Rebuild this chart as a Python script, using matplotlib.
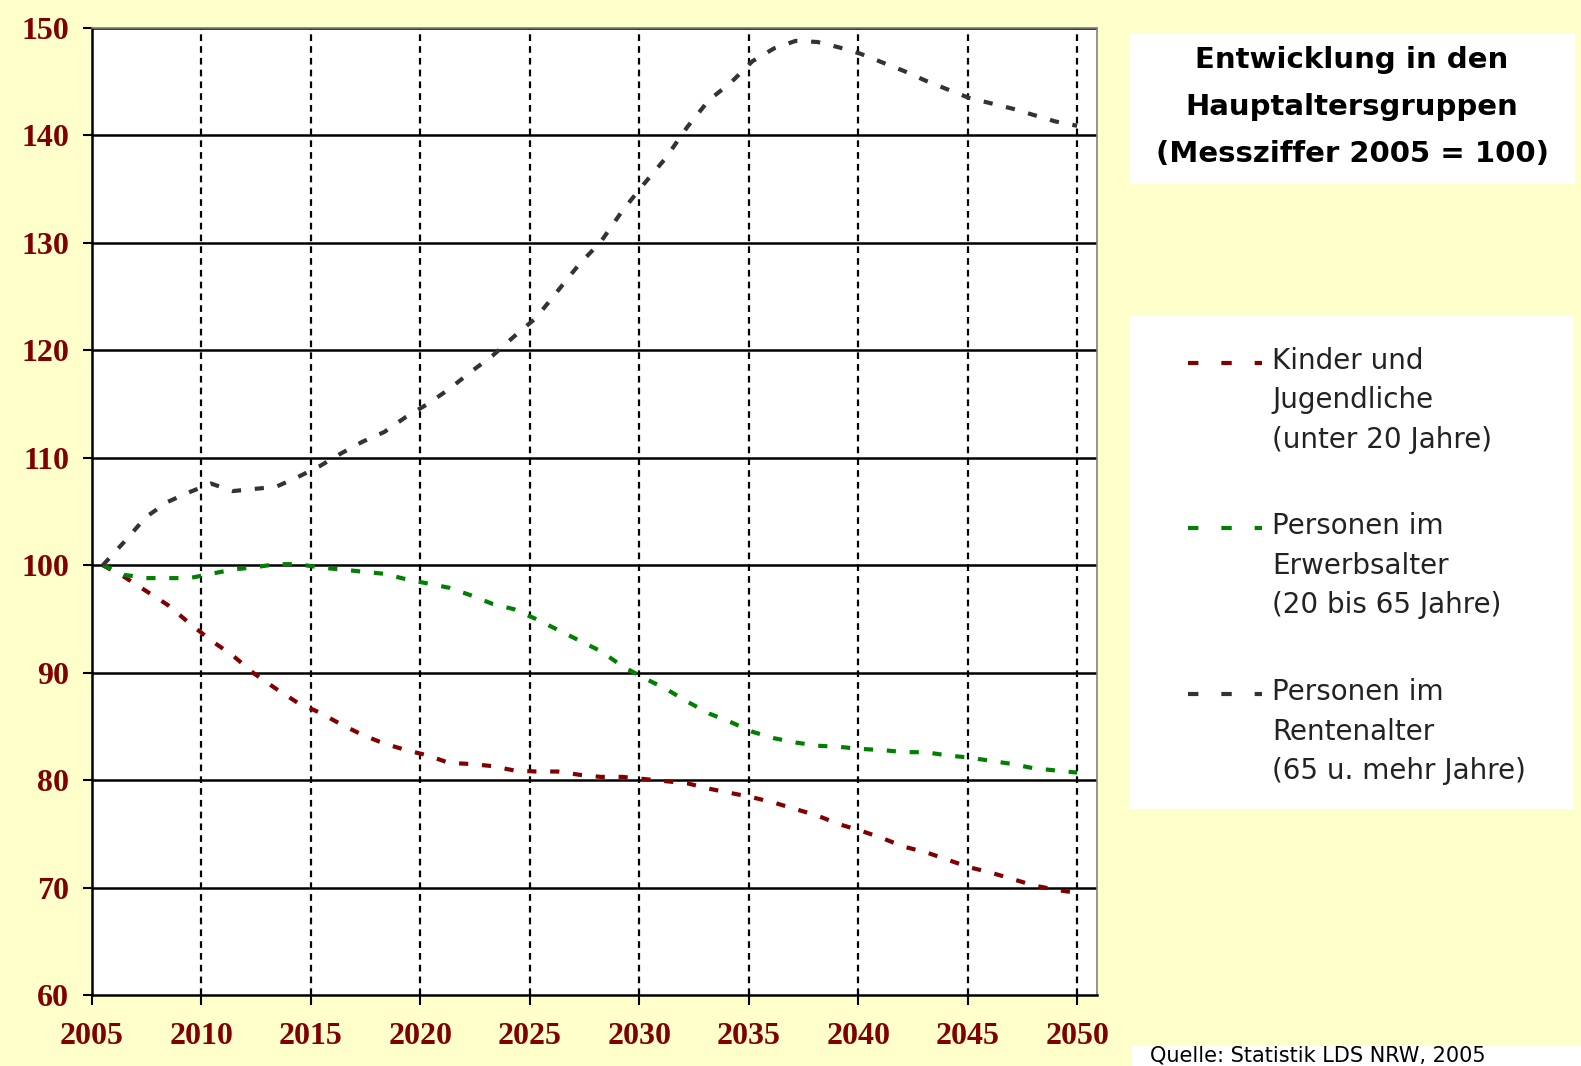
import matplotlib
matplotlib.use("Agg")
import matplotlib.pyplot as plt
from matplotlib.patches import Rectangle
from matplotlib.lines import Line2D
from matplotlib.transforms import ScaledTranslation

W, H = 1581, 1066

years = list(range(2005, 2051))

kinder = [100.0, 98.9, 97.6, 96.3, 94.6, 93.0, 91.6, 89.9, 88.5, 87.2,
          86.3, 85.2, 84.2, 83.4, 82.8, 82.3, 81.6, 81.5, 81.3, 80.9,
          80.8, 80.8, 80.5, 80.3, 80.3, 80.1, 79.9, 79.7, 79.2, 78.8,
          78.4, 77.9, 77.3, 76.7, 75.9, 75.3, 74.6, 73.8, 73.3, 72.6,
          71.9, 71.4, 70.8, 70.2, 69.8, 69.5]

erwerb = [100.0, 99.1, 98.8, 98.8, 98.8, 99.2, 99.6, 99.8, 100.1, 100.1,
          99.8, 99.6, 99.4, 99.2, 98.7, 98.3, 97.9, 97.2, 96.4, 95.9,
          95.0, 94.0, 93.0, 92.0, 90.6, 89.5, 88.5, 87.3, 86.2, 85.4,
          84.5, 83.9, 83.5, 83.2, 83.1, 82.9, 82.8, 82.6, 82.6, 82.3,
          82.1, 81.8, 81.5, 81.1, 80.9, 80.7]

rente = [100.0, 102.2, 104.5, 105.9, 106.8, 107.6, 106.9, 107.1, 107.3, 108.2,
         109.2, 110.4, 111.5, 112.4, 113.8, 115.0, 116.4, 118.0, 119.5, 121.3,
         123.0, 125.5, 128.0, 130.1, 133.0, 135.5, 137.9, 140.8, 143.3, 144.9,
         146.9, 148.1, 148.8, 148.7, 148.2, 147.6, 146.8, 146.0, 145.1, 144.3,
         143.5, 143.0, 142.5, 141.9, 141.3, 140.9]

x_labels = ["2005", "2010", "2015", "2020", "2025", "2030", "2035", "2040", "2045", "2050"]
y_ticks = [60, 70, 80, 90, 100, 110, 120, 130, 140, 150]

series = [
    (kinder, "#800000", ["Kinder und", "Jugendliche", "(unter 20 Jahre)"]),
    (erwerb, "#008000", ["Personen im", "Erwerbsalter", "(20 bis 65 Jahre)"]),
    (rente, "#333333", ["Personen im", "Rentenalter", "(65 u. mehr Jahre)"]),
]

title_lines = ["Entwicklung in den", "Hauptaltersgruppen", "(Messziffer 2005 = 100)"]
source = "Quelle: Statistik LDS NRW, 2005"

label_red = "#800000"
bg = "#FFFFCC"


def fx(px):
    return px / W


def fy(py):
    return 1 - py / H


fig = plt.figure(figsize=(W / 100, H / 100), dpi=100, facecolor=bg)
ax = fig.add_axes([fx(92), fy(995), (1097 - 92) / W, (995 - 28) / H])
ax.set_facecolor("white")

# category axis: ticks sit between categories, labels a bit to the right
x_left, x_right = 2004.5, 2050.92
ax.set_xlim(x_left, x_right)
ax.set_ylim(60, 150)
step = (2050 - x_left) / 9
tick_pos = [x_left + k * step for k in range(10)]

for yv in y_ticks[1:]:
    ax.axhline(yv, color="black", lw=1.8, zorder=1)
for xv in tick_pos[1:]:
    ax.axvline(xv, color="black", lw=1.6, ls=(0, (3.0, 2.3)), zorder=1)

for vals, col, _ in series:
    ax.plot(years, vals, color=col, lw=3.0, ls=(0, (2.2, 3.3)),
            dash_capstyle="butt", zorder=3)

ax.set_xticks(tick_pos, x_labels)
ax.set_yticks(y_ticks)
for lab in ax.get_xticklabels() + ax.get_yticklabels():
    lab.set_fontfamily("Liberation Serif")
    lab.set_fontweight("bold")
    lab.set_fontsize(23)
    lab.set_color(label_red)
offset = ScaledTranslation(8 / 100, 0, fig.dpi_scale_trans)
for lab in ax.get_xticklabels():
    lab.set_transform(lab.get_transform() + offset)
ax.tick_params(axis="y", length=6.5, width=1.5, pad=10, direction="out")
ax.tick_params(axis="x", length=7.5, width=1.5, pad=12, direction="out")

for side in ["left", "bottom"]:
    ax.spines[side].set_linewidth(1.8)
    ax.spines[side].set_color("black")
for side in ["top", "right"]:
    ax.spines[side].set_linewidth(1.2)
    ax.spines[side].set_color("#808080")

# title box
fig.add_artist(Rectangle((fx(1129), fy(184)), (1575 - 1129) / W, (184 - 33) / H,
                         transform=fig.transFigure, facecolor="white", edgecolor="none"))
for i, line in enumerate(title_lines):
    fig.text(fx(1352), fy(60 + i * 47), line, ha="center", va="center",
             fontsize=21, fontweight="bold", family="DejaVu Sans", color="black")

# legend box
fig.add_artist(Rectangle((fx(1129), fy(809)), (1573 - 1129) / W, (809 - 316) / H,
                         transform=fig.transFigure, facecolor="white", edgecolor="none"))
entry_tops = [361, 526, 692]
for (vals, col, lines), top in zip(series, entry_tops):
    fig.add_artist(Line2D([fx(1188), fx(1262)], [fy(top + 2), fy(top + 2)],
                          transform=fig.transFigure, color=col, lw=3.0,
                          ls=(0, (2.5, 5.5)), dash_capstyle="butt"))
    for j, t in enumerate(lines):
        fig.text(fx(1272), fy(top + j * 39.5), t, ha="left", va="center",
                 fontsize=20, family="DejaVu Sans", color="#222222")

# source box at the bottom edge
fig.add_artist(Rectangle((fx(1131), 0), (W - 1131) / W, (1066 - 1046) / H,
                         transform=fig.transFigure, facecolor="white", edgecolor="none"))
fig.text(fx(1150), fy(1056), source, ha="left", va="center",
         fontsize=15, family="DejaVu Sans", color="black")

fig.savefig("out.png", dpi=100, facecolor=bg)
